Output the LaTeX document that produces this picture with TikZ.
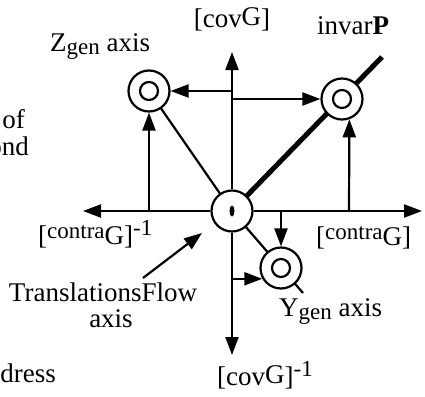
\documentclass[tikz,border=0pt]{standalone}
\usepackage{fontspec}
\setmainfont{Liberation Serif}
\usetikzlibrary{arrows.meta,shapes.geometric}
\begin{document}
\begin{tikzpicture}[x=1pt,y=-1pt,
  ring/.style={circle,draw,line width=2.2pt,minimum size=41pt,inner sep=0pt,fill=white},
  core/.style={circle,draw,line width=2.2pt,minimum size=18pt,inner sep=0pt},
  dot/.style={ellipse,fill,minimum width=5pt,minimum height=11pt,inner sep=0pt},
  arr/.style={line width=2.2pt,-{Triangle[length=18pt,width=13pt]}},
  thin/.style={line width=2.2pt},
  thick/.style={line width=5pt},
  lbl/.style={inner sep=0pt,font=\fontsize{27}{27}\selectfont}]
\useasboundingbox (0,0) rectangle (425,396);
\newcommand{\smt}[1]{{\fontsize{23}{23}\selectfont #1}}
% coordinates
\coordinate (hL) at (83,211);
\coordinate (hR) at (422,211);
\coordinate (vT) at (232,52);
\coordinate (vB) at (232,355);
\coordinate (pEnd) at (382,57);
\coordinate (yEnd) at (303,293);
\coordinate (pB) at (349,211);
\coordinate (tfs) at (143,278);
\coordinate (tfe) at (202,233);
% connectors (drawn first so that rings cover them)
\draw[thin] (232,211) -- (149,91);
\draw[thick] (232,211) -- (pEnd);
\draw[thin] (232,211) -- (yEnd);
\node[ring] (O) at (232,211) {};
\node[dot] (Oi) at (O) {};
\node[ring] (Z) at (149,91) {};
\node[core] (Zi) at (Z) {};
\node[ring] (P) at (342,99) {};
\node[core] (Pi) at (P) {};
\node[ring] (Y) at (281,268) {};
\node[core] (Yi) at (Y) {};
% axes
\draw[arr] (O) -- (hL);
\draw[arr] (O) -- (hR);
\draw[arr] (O) -- (vT);
\draw[arr] (O) -- (vB);
% projection arrows
\draw[arr] (O |- Z) -- (Z);
\draw[arr] (O |- P) -- (P);
\draw[arr] (Z |- O) -- (Z);
\draw[arr] (pB) -- (P.-70.5);
\draw[arr] (Y |- O) -- (Y);
\draw[arr] (O |- Y.210) -- (Y.210);
\draw[arr] (tfs) -- (tfe);
% labels
\node[lbl,anchor=base] (covT) at (232,28) {[cov\raisebox{2pt}{G}]};
\node[lbl,anchor=base west] (zlab) at (50,52) {Z\raisebox{-3pt}{\smt{gen}} axis};
\node[lbl,anchor=base west] (plab) at (317,35) {invar\textbf{P}};
\node[lbl,anchor=base west] (cl) at (38,244) {[\raisebox{6pt}{\smt{contra}}G]\raisebox{9pt}{\smt{-1}}};
\node[lbl,anchor=base west] (cr) at (316,245) {[\raisebox{6pt}{\smt{contra}}G]};
\node[lbl,anchor=base,text depth=0pt] (tf) at (103,301) {TranslationsFlow};
\node[lbl,anchor=base,text height=12pt] (tfaxis) at (111,327) {axis};
\node[lbl,anchor=base west] (ylab) at (279,316) {Y\raisebox{-3pt}{\smt{gen}} axis};
\node[lbl,anchor=base west] (covB) at (217,385) {[cov\raisebox{2pt}{G}]\raisebox{9pt}{\smt{-1}}};
\node[lbl,anchor=base east] (t1) at (25,128) {of};
\node[lbl,anchor=base east] (t2) at (29,155) {ond};
\node[lbl,anchor=base east] (t3) at (56,382) {ldress};
\end{tikzpicture}
\end{document}
